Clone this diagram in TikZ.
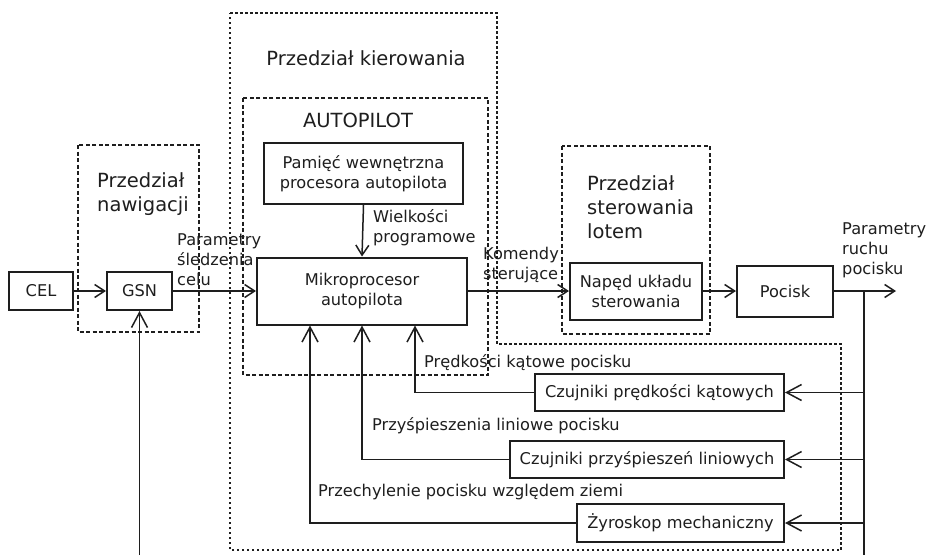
\documentclass[tikz,border=0pt]{standalone}
\usepackage{fontspec}
\setmainfont{DejaVu Sans}
\usetikzlibrary{arrows.meta,calc}
\definecolor{ink}{HTML}{1E1E1E}
\tikzset{
  blk/.style={draw=ink, line width=2pt, inner sep=0pt, align=center, text=ink,
    font=\fontsize{16.2}{20}\selectfont},
  lbl/.style={inner sep=0pt, align=left, anchor=west, text=ink,
    font=\fontsize{16.2}{20}\selectfont},
  ttl/.style={inner sep=0pt, align=left, text=ink,
    font=\fontsize{19.5}{24}\selectfont},
  sarr/.style={draw=ink, line width=1.5pt, -{Straight Barb[length=10pt,width=13pt]}},
  barr/.style={draw=ink, line width=1.5pt, -{Straight Barb[length=15pt,width=16pt]}},
  ln/.style={draw=ink, line width=1.5pt},
  zone/.style={draw=ink, line width=2pt, dash pattern=on 4pt off 2.5pt},
  zonethin/.style={draw=ink, line width=1.2pt, dash pattern=on 2.5pt off 2.5pt}
}
\begin{document}
\begin{tikzpicture}[x=1pt,y=-1pt]
\useasboundingbox (0,0) rectangle (928,555);
\fill[white] (0,0) rectangle (928,555);

% zones
\draw[zonethin] (230,13) -- (497,13) -- (497,344) -- (841,344) -- (841,550) -- (230,550) -- cycle;
\draw[zone] (78,145) rectangle (199,332);
\draw[zone] (243,98) rectangle (488,375);
\draw[zone] (562,146) rectangle (710,334);

% titles
\node[ttl] (tkier) at (366,58) {Przedział kierowania};
\node[ttl] (tauto) at (358,120) {AUTOPILOT};
\node[ttl, anchor=west] (tnaw) at (97,194) {Przedział\\nawigacji};
\node[ttl, anchor=west] (tster) at (587,207) {Przedział\\sterowania\\lotem};

% blocks
\node[blk, minimum width=64pt, minimum height=38pt] (cel) at (41,291) {CEL};
\node[blk, minimum width=65pt, minimum height=38pt] (gsn) at (139.5,291) {GSN};
\node[blk, minimum width=199pt, minimum height=61pt] (pam) at (363.5,173.5) {Pamięć wewnętrzna\\procesora autopilota};
\node[blk, minimum width=210pt, minimum height=67pt] (mikro) at (362,291) {Mikroprocesor\\autopilota};
\node[blk, minimum width=132pt, minimum height=57pt] (naped) at (636,291) {Napęd układu\\sterowania};
\node[blk, minimum width=96pt, minimum height=51pt] (pocisk) at (785,291) {Pocisk};
\node[blk, minimum width=249pt, minimum height=37pt] (cz1) at (659.5,392.5) {Czujniki prędkości kątowych};
\node[blk, minimum width=274pt, minimum height=37pt] (cz2) at (647,459.5) {Czujniki przyśpieszeń liniowych};
\node[blk, minimum width=207pt, minimum height=38pt] (zyro) at (680.5,523) {Żyroskop mechaniczny};

% labels
\node[lbl] (lpar) at (177,260) {Parametry\\śledzenia\\celu};
\node[lbl] (lwiel) at (373,228) {Wielkości\\programowe};
\node[lbl] (lkom) at (483,265) {Komendy\\sterujące};
\node[lbl] (lruch) at (842,250) {Parametry\\ruchu\\pocisku};
\node[lbl] (lpred) at (424,363) {Prędkości kątowe pocisku};
\node[lbl] (lprzy) at (372,426) {Przyśpieszenia liniowe pocisku};
\node[lbl] (lprze) at (318,492) {Przechylenie pocisku względem ziemi};

% coordinates
\coordinate (out) at (896,291);
\coordinate (split) at (864,291);
\coordinate (sbot) at (864,555);
\coordinate (gbot) at (139.5,555);
\coordinate (m1) at ($(mikro.south)+(53,0)$);
\coordinate (m3) at ($(mikro.south)+(-52,0)$);

% main chain
\draw[sarr] (cel.east) -- (gsn.west);
\draw[sarr] (gsn.east) -- (mikro.west);
\draw[sarr] (pam.south) -- (mikro.north);
\draw[sarr] (mikro.east) -- (naped.west);
\draw[sarr] (naped.east) -- (pocisk.west);
\draw[sarr] (pocisk.east) -- (out);

% feedback
\draw[ln] (split) -- (sbot);
\draw[barr] (split |- cz1.east) -- (cz1.east);
\draw[barr] (split |- cz2.east) -- (cz2.east);
\draw[barr] (split |- zyro.east) -- (zyro.east);
\draw[barr] (cz1.west) -| (m1);
\draw[barr] (cz2.west) -| (mikro.south);
\draw[barr] (zyro.west) -| (m3);
\draw[barr] (gbot) -- (gsn.south);
\end{tikzpicture}
\end{document}
